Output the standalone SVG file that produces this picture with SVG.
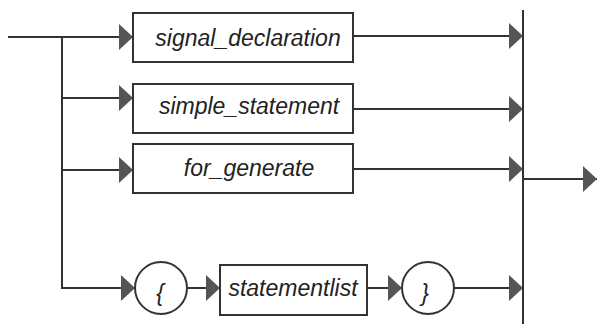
<svg xmlns="http://www.w3.org/2000/svg" width="598" height="324" viewBox="0 0 598 324">
<style>
.box{fill:#fff;stroke:#333;stroke-width:2}
.circ{fill:#fff;stroke:#333;stroke-width:2}
.ln{fill:none;stroke:#333;stroke-width:2}
.t{font-family:"Liberation Sans",Arial,sans-serif;font-style:italic;font-size:23px;fill:#222;text-anchor:middle}
</style>
<defs>
<marker id="ah" viewBox="0 0 14 26" refX="14" refY="13" markerWidth="14" markerHeight="26" markerUnits="userSpaceOnUse" orient="auto">
<path d="M0,0 L14,13 L0,26 Z" fill="#555"/>
</marker>
</defs>
<rect width="598" height="324" fill="#fff"/>
<g id="connectors">
<path class="ln" d="M8,37 H133" marker-end="url(#ah)"/>
<path class="ln" d="M62,37 V288 H135" marker-end="url(#ah)"/>
<path class="ln" d="M62,98 H133" marker-end="url(#ah)"/>
<path class="ln" d="M62,170 H133" marker-end="url(#ah)"/>
<path class="ln" d="M353,36 H523" marker-end="url(#ah)"/>
<path class="ln" d="M353,109 H523" marker-end="url(#ah)"/>
<path class="ln" d="M353,169 H523" marker-end="url(#ah)"/>
<path class="ln" d="M187,288 H220" marker-end="url(#ah)"/>
<path class="ln" d="M367,288 H402" marker-end="url(#ah)"/>
<path class="ln" d="M454,288 H523" marker-end="url(#ah)"/>
<path class="ln" d="M523,10 V324"/>
<path class="ln" d="M523,179 H597" marker-end="url(#ah)"/>
</g>
<g id="signal_declaration">
<rect class="box" x="133" y="13" width="220" height="49"/>
<text class="t" x="248" y="46">signal_declaration</text>
</g>
<g id="simple_statement">
<rect class="box" x="133" y="84" width="220" height="49"/>
<text class="t" x="249" y="114">simple_statement</text>
</g>
<g id="for_generate">
<rect class="box" x="133" y="144" width="220" height="49"/>
<text class="t" x="249" y="176">for_generate</text>
</g>
<g id="open_brace">
<circle class="circ" cx="161" cy="288" r="26"/>
<text class="t" x="160" y="301">{</text>
</g>
<g id="statementlist">
<rect class="box" x="220" y="265" width="147" height="50"/>
<text class="t" x="293" y="296">statementlist</text>
</g>
<g id="close_brace">
<circle class="circ" cx="428" cy="288" r="26"/>
<text class="t" x="425" y="301">}</text>
</g>
</svg>
